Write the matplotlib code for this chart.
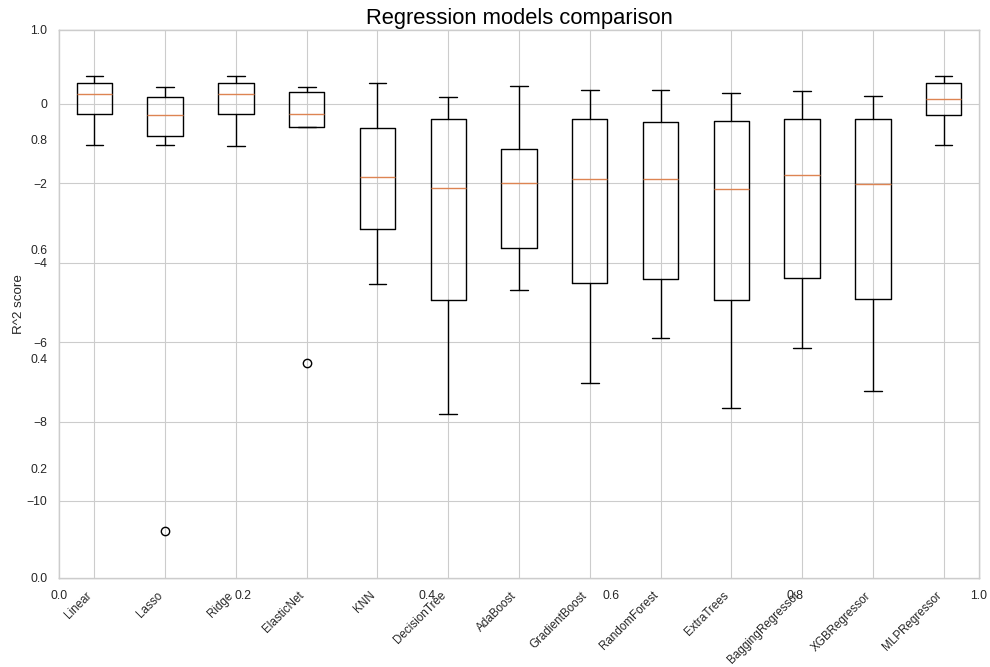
import matplotlib.pyplot as plt
import seaborn as sns

sns.set_theme(context="paper", style="whitegrid")
plt.rcParams['font.family'] = ['Liberation Sans', 'DejaVu Sans']

names = ["Linear", "Lasso", "Ridge", "ElasticNet", "KNN", "DecisionTree", "AdaBoost",
         "GradientBoost", "RandomForest", "ExtraTrees", "BaggingRegressor",
         "XGBRegressor", "MLPRegressor"]

# box statistics (R^2 scores)
whis_hi = [0.70, 0.43, 0.70, 0.43, 0.52, 0.18, 0.44, 0.34, 0.36, 0.28, 0.33, 0.20, 0.70]
q3 = [0.52, 0.18, 0.52, 0.30, -0.60, -0.38, -1.14, -0.38, -0.46, -0.42, -0.39, -0.39, 0.52]
med = [0.26, -0.28, 0.26, -0.26, -1.83, -2.13, -2.00, -1.88, -1.88, -2.14, -1.78, -2.02, 0.12]
q1 = [-0.26, -0.80, -0.26, -0.58, -3.16, -4.95, -3.64, -4.51, -4.40, -4.93, -4.38, -4.91, -0.28]
whis_lo = [-1.03, -1.03, -1.05, -0.58, -4.53, -7.81, -4.69, -7.02, -5.89, -7.67, -6.15, -7.24, -1.03]
outliers = [[], [-10.75], [], [-6.52], [], [], [], [], [], [], [], [], []]

stats = []
for i, n in enumerate(names):
    stats.append({"label": n, "whishi": whis_hi[i], "q3": q3[i], "med": med[i],
                  "q1": q1[i], "whislo": whis_lo[i], "fliers": outliers[i]})

fig, ax0 = plt.subplots(figsize=(9.9, 6.67), dpi=100)
ax = fig.add_subplot(111)
fig.subplots_adjust(left=59 / 990, right=979 / 990, top=1 - 30 / 667, bottom=1 - 578 / 667)

ax.bxp(stats, boxprops=dict(color="black"), whiskerprops=dict(color="black"),
       capprops=dict(color="black"), flierprops=dict(markeredgecolor="black"))
ax.set_ylim(-11.94, 1.86)
ax.set_title("Regression models comparison", fontsize=15.8, pad=4, color="black")
ax.set_ylabel("R^2 score", labelpad=1)
ax.set_xticks(range(1, len(names) + 1))
ax.set_xticklabels(names, rotation=45, ha="right", fontsize=8.4)

plt.savefig("out.png")
